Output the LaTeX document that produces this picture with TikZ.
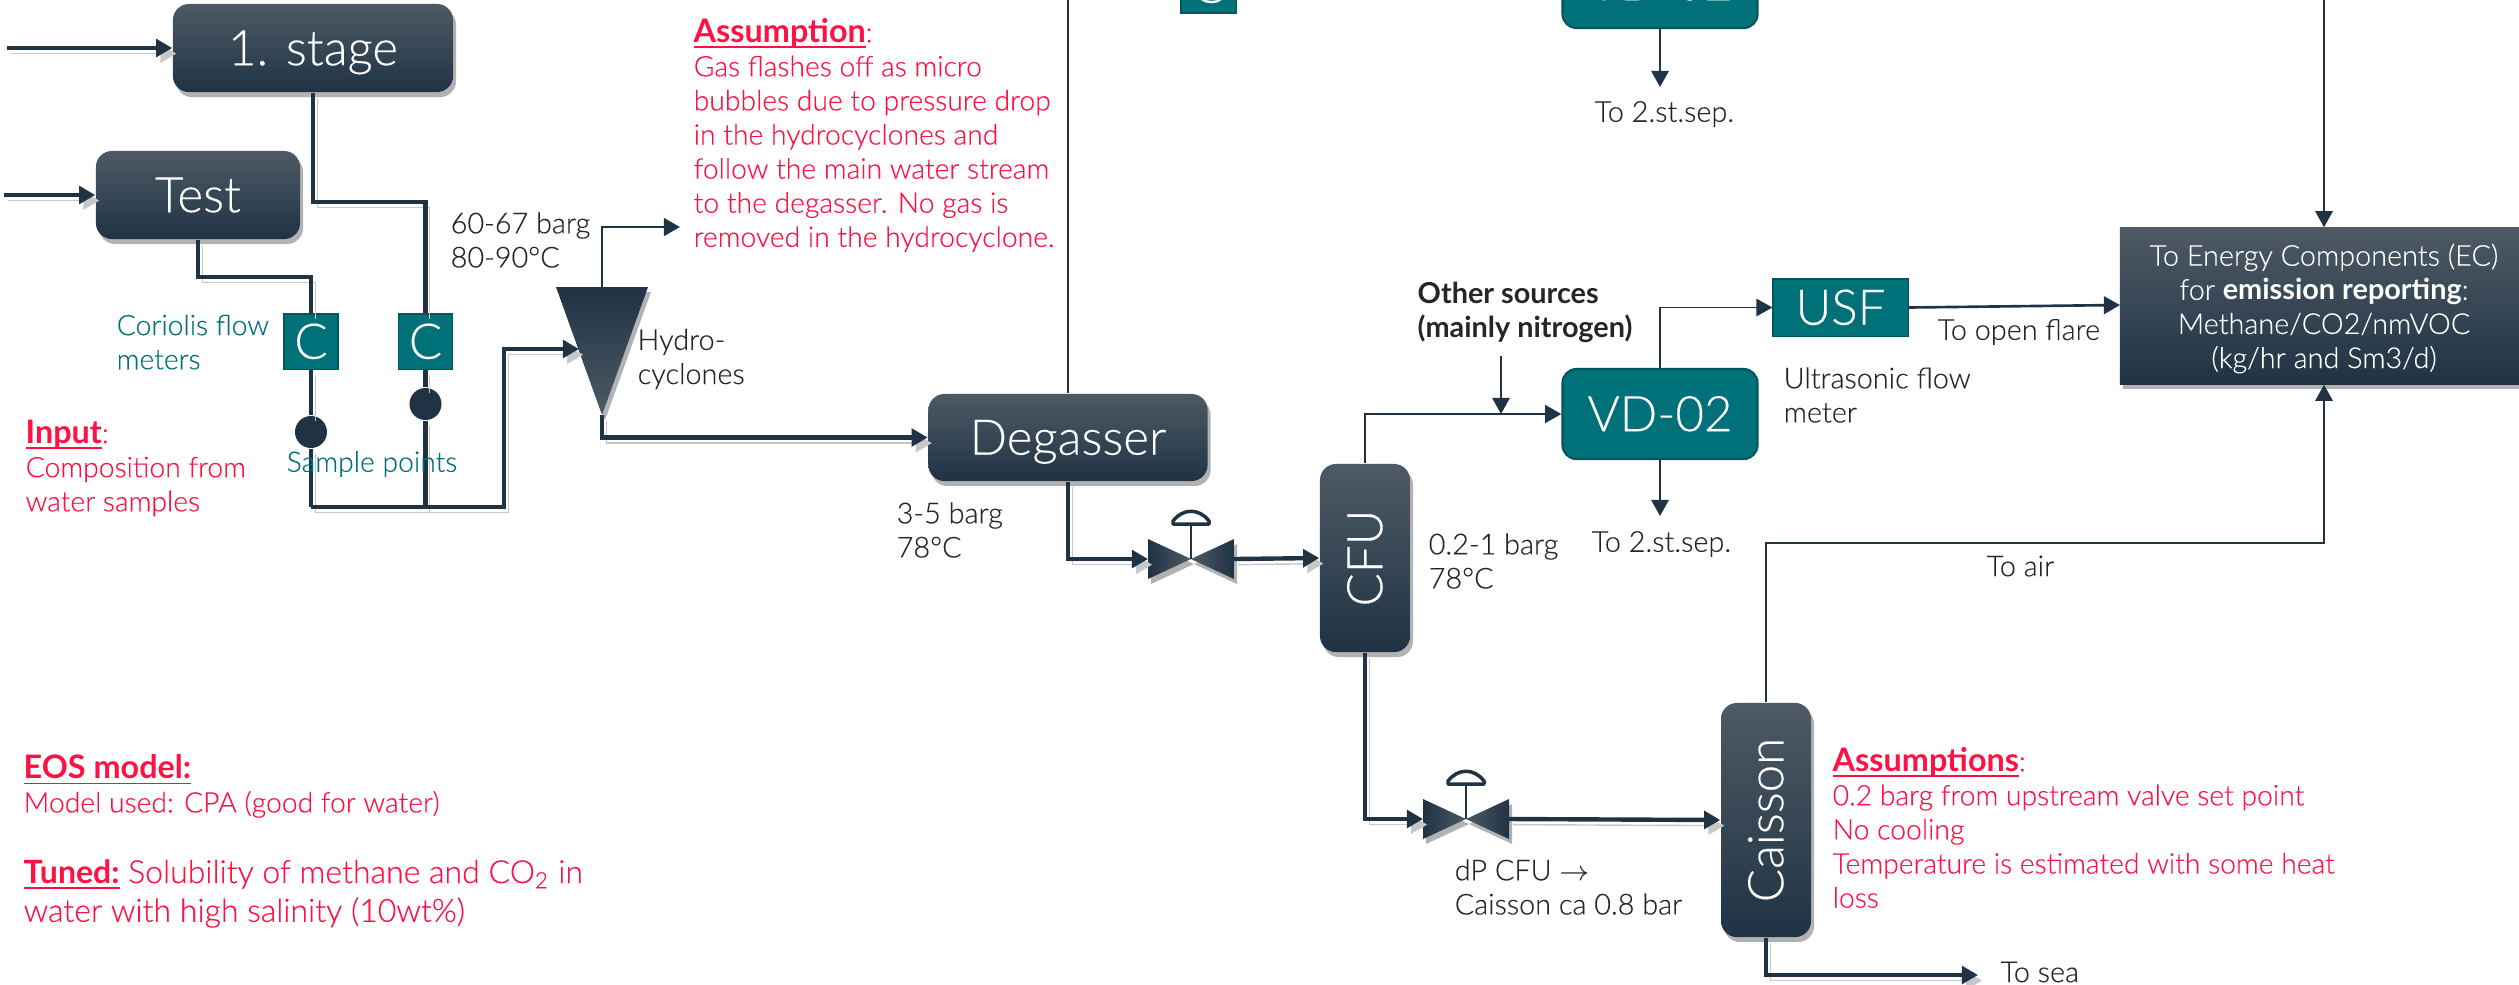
\documentclass[tikz,border=0pt]{standalone}
\usepackage{fontspec}
\setmainfont{Lato}[UprightFont=* Light,BoldFont=* Bold,UprightFeatures={FakeBold=0.2}]
\usetikzlibrary{arrows.meta,shadows}
\definecolor{navy}{HTML}{1F3344}
\definecolor{slate}{HTML}{4E5A65}
\definecolor{moss}{HTML}{007079}
\definecolor{mossdark}{HTML}{00565C}
\definecolor{alert}{HTML}{FF1243}
\definecolor{ink}{HTML}{262626}
\newcommand{\notefont}{\fontsize{8.2}{9.7}\selectfont}
\newcommand{\redfont}{\fontsize{8.05}{9.7}\selectfont}
\newcommand{\bigfont}{\fontsize{9.1}{11}\selectfont}
\newcommand{\boxfont}{\fontsize{14}{16}\selectfont}
\newcommand{\headline}[1]{\underline{\raisebox{0pt}[\height][0pt]{\fontsize{9.2}{9.7}\selectfont\textbf{#1}}}}
\tikzset{
  softshadow/.style={drop shadow={shadow xshift=.03cm,shadow yshift=-.05cm,opacity=.3,fill=black}},
  boxtext/.style={text=white,font=\boxfont,inner sep=0pt,text height=12.6pt,text depth=2.8pt},
  unit/.style={rectangle,rounded corners=.16cm,top color=slate,middle color=navy,bottom color=navy,softshadow,boxtext},
  meter/.style={rectangle,fill=moss,draw=mossdark,line width=.3pt,boxtext},
  flowbox/.style={rectangle,rounded corners=.14cm,fill=moss,draw=mossdark,line width=.6pt,boxtext},
  sample/.style={circle,fill=navy,minimum size=.32cm,inner sep=0pt},
  note/.style={anchor=west,inner sep=0pt,align=left,text=ink,font=\notefont},
  tealnote/.style={note,text=moss,font=\redfont},
  rednote/.style={note,text=alert,font=\redfont},
  pipe/.style={draw=navy,line width=1.25pt,preaction={draw=black!22,transform canvas={shift={(1.2pt,-1.6pt)}}}},
  midpipe/.style={draw=navy,line width=.75pt},
  thinpipe/.style={draw=navy,line width=.45pt},
  tip/.style={-{Triangle[length=4.6pt,width=5pt]}},
  valve/.pic={
    \shade[softshadow,left color=navy,right color=slate] (-43,-20) -- (0,0) -- (-43,20) -- cycle;
    \shade[softshadow,left color=slate,right color=navy] (43,-20) -- (0,0) -- (43,20) -- cycle;
    \draw[midpipe] (0,0) -- (0,-35);
    \draw[draw=navy,line width=1pt,line join=round] (-18,-35) -- (18,-35) -- (18,-38) .. controls (8,-51) and (-8,-51) .. (-18,-38) -- cycle;
    \coordinate (-in) at (-43,0);
    \coordinate (-out) at (43,0);
  }
}
\begin{document}
\begin{tikzpicture}[x=0.01cm,y=-0.01cm]
\useasboundingbox (0,0) rectangle (2519,984);
\clip (0,0) rectangle (2519,984);

\coordinate (stageFeed) at (7,48);
\coordinate (testFeed) at (4,195);
\coordinate (stageBend) at (425.5,202);
\coordinate (testBend) at (311,277);
\coordinate (joinRight) at (425.5,507);
\coordinate (joinLeft) at (311,507);
\coordinate (riseLow) at (504,507);
\coordinate (cycloneIn) at (579,349);
\coordinate (cycloneLeft) at (556,287);
\coordinate (cycloneRight) at (648,287);
\coordinate (cycloneTop) at (602,287);
\coordinate (cycloneTip) at (602,415);
\coordinate (gasOut) at (680,227);
\coordinate (degasserVent) at (1068,-5);
\coordinate (othersIn) at (1501,356);
\coordinate (othersDrop) at (1501,414);
\coordinate (ventTop) at (2324,-5);
\coordinate (sepUpper) at (1660,87);
\coordinate (sepLower) at (1660,516);
\coordinate (airBend) at (1766,543);
\coordinate (seaOut) at (1978,975);
\coordinate (flareIn) at (2120,305);

\node[unit,minimum width=2.8cm,minimum height=.88cm] (stage) at (313,48) {1. stage};
\node[unit,minimum width=2.04cm,minimum height=.88cm] (test) at (198,195) {Test};
\node[meter,minimum width=.54cm,minimum height=.55cm] (meterLeft) at (311,341.5) {C};
\node[meter,minimum width=.54cm,minimum height=.55cm] (meterRight) at (425.5,341.5) {C};
\node[sample] (sampleLeft) at (311,432) {};
\node[sample] (sampleRight) at (425.5,404) {};
\node[unit,minimum width=2.79cm,minimum height=.87cm] (degasser) at (1068,437.5) {Degasser};
\node[unit,rotate=90,minimum width=1.88cm,minimum height=.9cm] (cfu) at (1365,558) {CFU};
\node[unit,rotate=90,minimum width=2.34cm,minimum height=.9cm] (caisson) at (1766,820) {Caisson};
\node[flowbox,minimum width=1.95cm,minimum height=.9cm] (vdLower) at (1660,414) {VD-02};
\node[flowbox,minimum width=1.95cm,minimum height=.9cm] (vdUpper) at (1660,-17) {VD-02};
\node[meter,minimum width=.55cm,minimum height=.55cm] (meterTop) at (1208.5,-14.5) {C};
\node[meter,minimum width=1.35cm,minimum height=.57cm] (usf) at (1840.5,307.5) {USF};
\node[unit,rectangle,rounded corners=0pt,minimum width=4.08cm,minimum height=1.56cm,font=\notefont,align=center,text height=,text depth=] (ec) at (2324,306) {\rule{0pt}{7.7pt}To Energy Components (EC)\\for \textbf{emission reporting}:\\Methane/CO2/nmVOC\\(kg/hr and Sm3/d)};

\shade[softshadow,top color=navy,middle color=navy,bottom color=slate] (cycloneLeft) -- (cycloneRight) -- (cycloneTip) -- cycle;
\pic (valveUpper) at (1191,559) {valve};
\pic (valveLower) at (1466,819) {valve};

\draw[pipe,tip] (stageFeed) -- (stage.west);
\draw[pipe,tip] (testFeed) -- (test.west);
\draw[pipe] (stage.south) |- (stageBend) -- (meterRight.north);
\draw[pipe] (test.south) |- (testBend) -- (meterLeft.north);
\draw[pipe] (meterLeft.south) -- (sampleLeft) -- (joinLeft);
\draw[pipe] (meterRight.south) -- (sampleRight) -- (joinRight);
\draw[pipe,tip] (joinLeft) -- (riseLow) |- (cycloneIn);
\draw[midpipe,tip] (cycloneTop) |- (gasOut);
\draw[pipe,tip] (cycloneTip) |- (degasser.west);
\draw[thinpipe] (degasser.north) -- (degasserVent);
\draw[pipe,tip] (degasser.south) |- (valveUpper-in);
\draw[pipe,tip] (valveUpper-out) -- (cfu.north);
\draw[midpipe,tip] (cfu.east) |- (vdLower.west);
\draw[thinpipe,tip] (othersIn) -- (othersDrop);
\draw[thinpipe,tip] (vdLower.north) |- (usf.west);
\draw[midpipe,tip] (usf.east) -- (flareIn);
\draw[thinpipe,tip] (vdLower.south) -- (sepLower);
\draw[thinpipe,tip] (vdUpper.south) -- (sepUpper);
\draw[thinpipe,tip] (ventTop) -- (ec.north);
\draw[pipe,tip] (cfu.west) |- (valveLower-in);
\draw[pipe,tip] (valveLower-out) -- (caisson.north);
\draw[thinpipe,tip] (caisson.east) |- (airBend) -| (ec.south);
\draw[pipe,tip] (caisson.west) |- (seaOut);

\node[note] (processUpper) at (450,240) {60-67 barg\\80-90°C};
\node[note] (cycloneText) at (637,359) {Hydro-\\cyclones};
\node[note] (processMiddle) at (896,530) {3-5 barg\\78°C};
\node[note] (processLower) at (1428,561) {0.2-1 barg\\78°C};
\node[note] (dpText) at (1454,887) {dP CFU $\to$\\Caisson ca 0.8 bar};
\node[note] (othersText) at (1417,312) {\textbf{Other sources}\\\textbf{(mainly nitrogen)}};
\node[note] (usfText) at (1783,395) {Ultrasonic flow\\meter};
\node[note] (sepUpperText) at (1594,114) {To 2.st.sep.};
\node[note] (sepLowerText) at (1591,544) {To 2.st.sep.};
\node[note] (flareText) at (1937,332) {To open flare};
\node[note] (airText) at (1986,566) {To air};
\node[note] (seaText) at (2000,972) {To sea};
\node[tealnote] (coriolisText) at (116,342) {Coriolis flow\\meters};
\node[tealnote] (sampleText) at (286,464) {Sample points};
\node[rednote] (inputText) at (25,468) {\headline{Input}:\\Composition from\\water samples};
\node[rednote] (assumeText) at (693,135) {\headline{Assumption}:\\Gas flashes off as micro\\bubbles due to pressure drop\\in the hydrocyclones and\\follow the main water stream\\to the degasser. No gas is\\removed in the hydrocyclone.};
\node[rednote] (caissonText) at (1832,827.5) {\headline{Assumptions}:\\0.2 barg from upstream valve set point\\No cooling\\Temperature is estimated with some heat\\loss};
\node[rednote] (eosText) at (23,786) {\headline{EOS model:}\\Model used: CPA (good for water)};
\node[rednote,font=\bigfont] (tunedText) at (23,893.5) {\underline{\raisebox{0pt}[\height][0pt]{\textbf{Tuned:}}} Solubility of methane and CO\textsubscript{2} in\\water with high salinity (10wt\%)};
\end{tikzpicture}
\end{document}
